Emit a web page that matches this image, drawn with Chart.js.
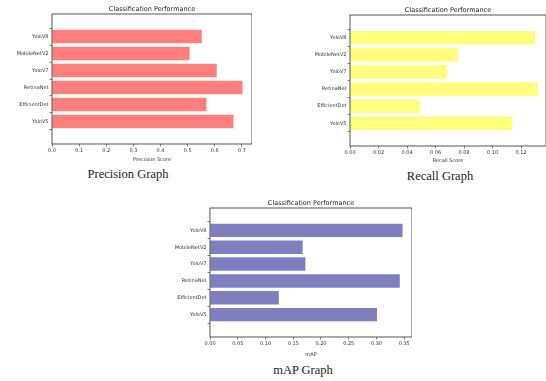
<!DOCTYPE html>
<html>
<head>
<meta charset="utf-8">
<script src="https://cdn.jsdelivr.net/npm/chart.js@4/dist/chart.umd.min.js"></script>
<style>
  html, body { margin: 0; padding: 0; background: #fff; }
  body { width: 546px; height: 381px; position: relative; overflow: hidden; }
  .panel { position: absolute; }
  .caption {
    position: absolute; font-family: "Liberation Serif", "DejaVu Serif", serif;
    font-size: 12.5px; color: #222; text-align: center; white-space: nowrap;
  }
</style>
</head>
<body>
<div class="panel" style="left:0;top:0;width:252px;height:163px"><canvas id="precision"></canvas></div>
<div class="panel" style="left:290px;top:0;width:256px;height:164px"><canvas id="recall"></canvas></div>
<div class="panel" style="left:160px;top:190px;width:252px;height:168px"><canvas id="map"></canvas></div>
<div class="caption" style="left:78px;top:167px;width:100px">Precision Graph</div>
<div class="caption" style="left:390px;top:169px;width:100px">Recall Graph</div>
<div class="caption" style="left:253px;top:363px;width:100px">mAP Graph</div>

<script>
// Models compared, listed top to bottom
const categories = ['YoloV8', 'MobileNetV2', 'YoloV7', 'RetinaNet', 'EfficientDet', 'YoloV5'];

// Scores per model
const precisionValues = [0.552, 0.507, 0.607, 0.702, 0.569, 0.669];
const recallValues    = [0.130, 0.076, 0.068, 0.132, 0.049, 0.114];
const mapValues       = [0.347, 0.167, 0.172, 0.342, 0.124, 0.301];

// Tick labels of the score axes
const precisionTicks = ['0.0', '0.1', '0.2', '0.3', '0.4', '0.5', '0.6', '0.7'];
const recallTicks    = ['0.00', '0.02', '0.04', '0.06', '0.08', '0.10', '0.12'];
const mapTicks       = ['0.00', '0.05', '0.10', '0.15', '0.20', '0.25', '0.30', '0.35'];

const TICK_FONT = { family: '"DejaVu Sans", sans-serif', size: 5 };
const TEXT_COLOR = '#333';

// Axes frame and the title centred over the plot area
const framePlugin = {
  id: 'frame',
  afterDraw(chart, args, opts) {
    const { ctx, chartArea: a } = chart;
    ctx.save();
    ctx.strokeStyle = '#2b2b2b';
    ctx.lineWidth = 0.8;
    ctx.strokeRect(a.left, a.top, a.right - a.left, a.bottom - a.top);
    ctx.fillStyle = '#222';
    ctx.font = '6.5px "DejaVu Sans", sans-serif';
    ctx.textAlign = 'center';
    ctx.textBaseline = 'alphabetic';
    ctx.fillText(opts.text, (a.left + a.right) / 2, a.top - 3);
    ctx.restore();
  }
};

function makeChart(id, values, ticks, xMax, xTitle, color, yWidth, xHeight, padTop) {
  const points = values.map((v, i) => ({ x: v, y: i }));
  return new Chart(document.getElementById(id), {
    type: 'bar',
    data: {
      datasets: [{
        data: points,
        backgroundColor: color,
        borderWidth: 0,
        categoryPercentage: 1,
        barPercentage: 0.8
      }]
    },
    options: {
      indexAxis: 'y',
      responsive: true,
      maintainAspectRatio: false,
      animation: false,
      layout: { padding: { top: padTop, right: 0, left: 0, bottom: 0 } },
      plugins: {
        legend: { display: false },
        tooltip: { enabled: false },
        frame: { text: 'Classification Performance' }
      },
      scales: {
        x: {
          type: 'linear',
          min: 0,
          max: xMax,
          afterBuildTicks: s => { s.ticks = ticks.map(t => ({ value: parseFloat(t) })); },
          afterFit: s => { s.height = xHeight; },
          ticks: {
            font: TICK_FONT, color: TEXT_COLOR, padding: 1, maxRotation: 0, autoSkip: false,
            callback: (v, i) => ticks[i]
          },
          grid: { drawOnChartArea: false, drawTicks: true, tickLength: 2.5, color: '#333', lineWidth: 0.6 },
          border: { display: false },
          title: { display: true, text: xTitle, font: TICK_FONT, color: TEXT_COLOR, padding: 0 }
        },
        y: {
          type: 'linear',
          reverse: true,
          min: -0.69,
          max: 5.69,
          afterBuildTicks: s => { s.ticks = categories.map((c, i) => ({ value: i })); },
          afterFit: s => { s.width = yWidth; },
          ticks: {
            font: TICK_FONT, color: TEXT_COLOR, padding: 1, autoSkip: false,
            callback: v => categories[v]
          },
          grid: { drawOnChartArea: false, drawTicks: true, tickLength: 2.5, color: '#333', lineWidth: 0.6 },
          border: { display: false }
        }
      }
    },
    plugins: [framePlugin]
  });
}

makeChart('precision', precisionValues, precisionTicks, 0.737, 'Precision Score', 'rgba(255,0,0,0.5)', 52, 19, 14);
makeChart('recall', recallValues, recallTicks, 0.1375, 'Recall Score', 'rgba(255,255,0,0.5)', 60, 18, 15);
makeChart('map', mapValues, mapTicks, 0.364, 'mAP', 'rgba(0,0,128,0.5)', 50, 21, 18);
</script>
</body>
</html>
